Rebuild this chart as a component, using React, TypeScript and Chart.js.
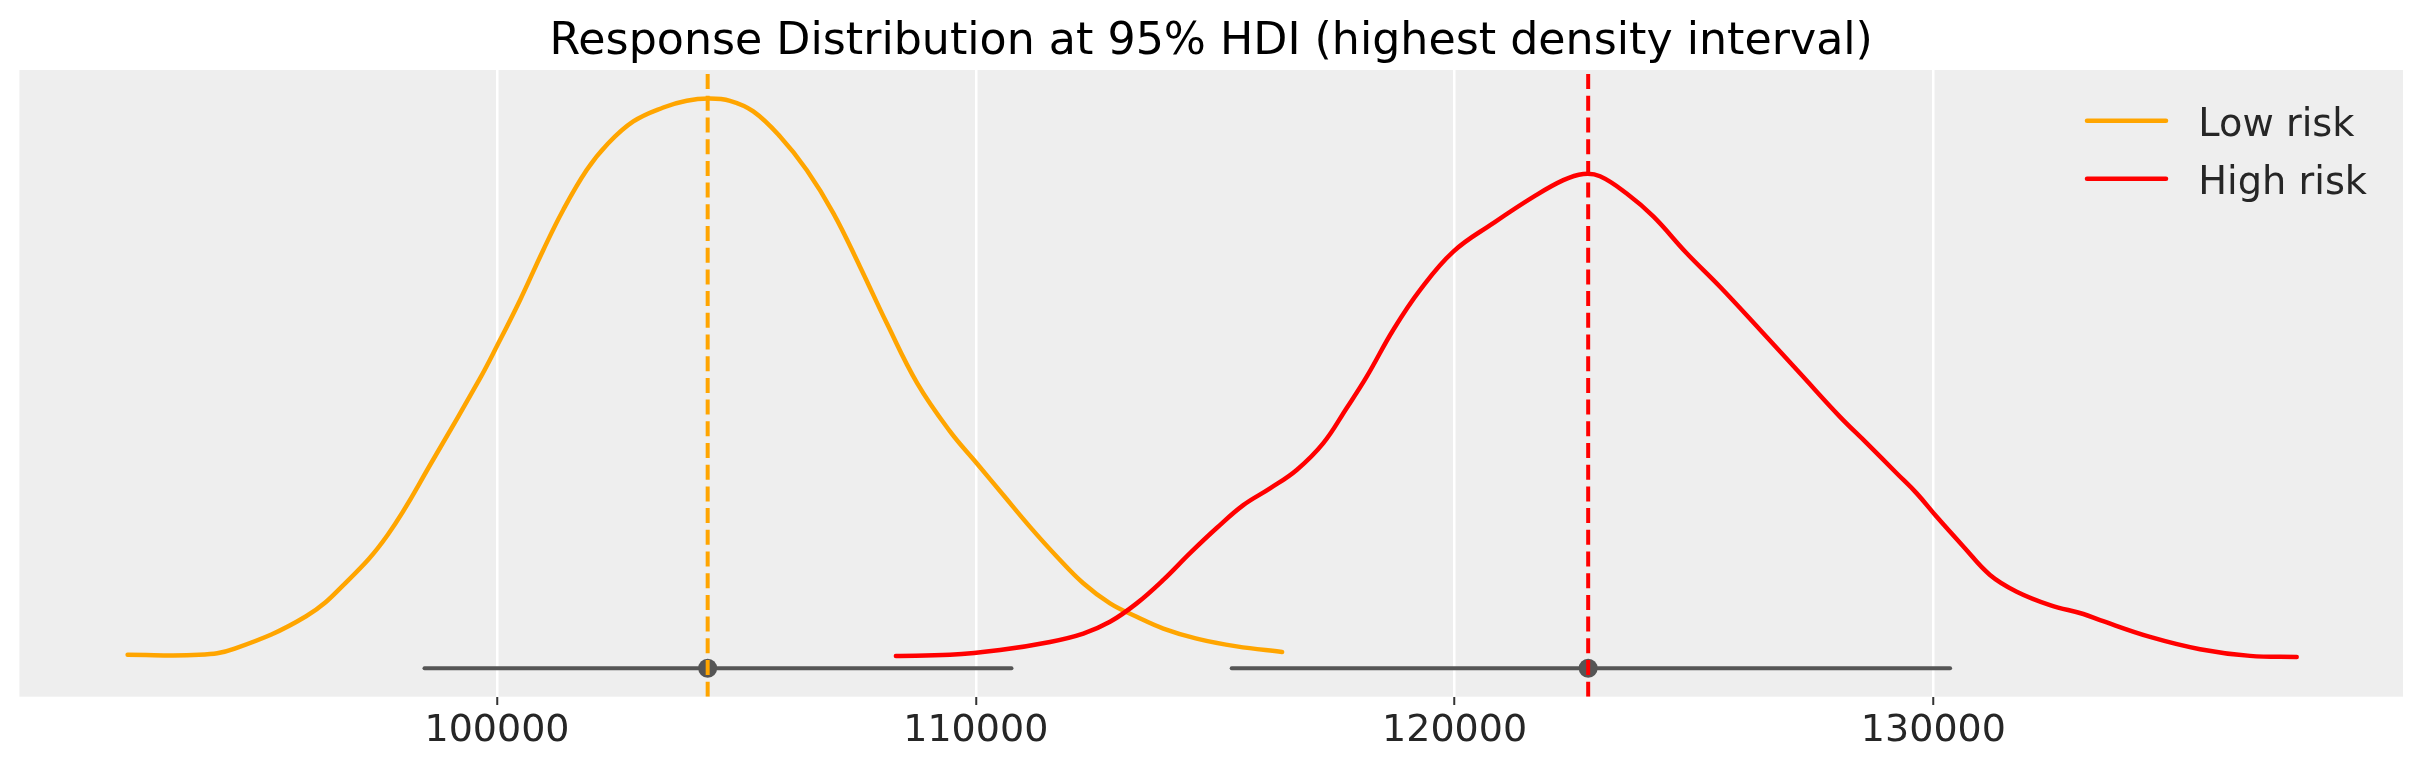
import React, { useEffect, useRef } from "react";
import { Chart, registerables } from "chart.js";

Chart.register(...registerables);

// ---------- data ----------
const TITLE = "Response Distribution at 95% HDI (highest density interval)";
const X_TICKS = [100000, 110000, 120000, 130000];
const X_MIN = 90025;
const X_MAX = 139808;
const Y_MIN = -0.0711;
const Y_MAX = 1.0512;

const LOW_LABEL = "Low risk";
const HIGH_LABEL = "High risk";

const LOW_X = [
  92285, 93776, 94522, 96013, 96865, 97719, 98678, 99645, 99994, 100480,
  100967, 101385, 101873, 102291, 102847, 103473, 103962, 104413, 104866,
  105353, 105911, 106468, 107024, 107581, 108139, 108778, 109461,
  110019, 110574, 111132, 111690, 112245, 112803, 113360, 113916, 114613,
  115449, 116398,
];
const LOW_Y = [
  0.004, 0.004, 0.015, 0.073, 0.135, 0.219, 0.355, 0.499, 0.556, 0.639,
  0.729, 0.801, 0.872, 0.917, 0.959, 0.984, 0.996, 1.0, 0.996,
  0.977, 0.932, 0.872, 0.795, 0.699, 0.598, 0.49, 0.404,
  0.347, 0.29, 0.233, 0.18, 0.132, 0.096, 0.072, 0.051, 0.033,
  0.019, 0.009,
];

const HIGH_X = [
  108331, 109461, 110506, 111550, 112245, 112803, 113360, 113916, 114474,
  115031, 115587, 116145, 116702, 117258, 117747, 118164, 118720, 119277,
  119973, 120808, 121644, 122271, 122688, 123037, 123594, 124150, 124848,
  125543, 126379, 127214, 128050, 128607, 129233, 129652, 130069, 130625,
  131182, 131740, 132436, 133132, 133480, 134524, 135569, 136613, 137588,
];
const HIGH_Y = [
  0.002, 0.004, 0.0125, 0.027, 0.042, 0.063, 0.096, 0.138, 0.186,
  0.231, 0.272, 0.302, 0.335, 0.383, 0.446, 0.502, 0.586, 0.657,
  0.726, 0.777, 0.824, 0.854, 0.865, 0.861, 0.83, 0.789, 0.723,
  0.663, 0.586, 0.508, 0.43, 0.383, 0.329, 0.293, 0.251, 0.198,
  0.147, 0.117, 0.093, 0.077, 0.066, 0.036, 0.014, 0.002, 0.0,
];

const LOW_MEAN = 104400;
const HIGH_MEAN = 122790;
const LOW_HDI = [98486, 110745];
const HIGH_HDI = [115345, 130349];
const HDI_Y = -0.02;

// ---------- styles ----------
const LOW_COLOR = "#FFA500";
const HIGH_COLOR = "#FF0000";
const HDI_COLOR = "#555555";
const DOT_COLOR = "#555555";
const BG_COLOR = "#EEEEEE";
const TEXT_COLOR = "#262626";
const FONT = "'DejaVu Sans', 'Liberation Sans', sans-serif";

const zip = (xs: number[], ys: number[]) => xs.map((x, i) => ({ x, y: ys[i] }));

const bgPlugin = {
  id: "bgPlugin",
  beforeDraw(chart: any) {
    const { ctx, chartArea } = chart;
    ctx.save();
    ctx.fillStyle = BG_COLOR;
    ctx.fillRect(chartArea.left, chartArea.top, chartArea.right - chartArea.left, chartArea.bottom - chartArea.top);
    ctx.restore();
  },
};

const titlePlugin = {
  id: "titlePlugin",
  afterDraw(chart: any) {
    const { ctx, chartArea } = chart;
    ctx.save();
    ctx.font = `44.3px ${FONT}`;
    ctx.fillStyle = "#000000";
    ctx.textAlign = "center";
    ctx.textBaseline = "alphabetic";
    ctx.fillText(TITLE, (chartArea.left + chartArea.right) / 2, 54);
    ctx.restore();
  },
};

const LEGEND = [
  { label: LOW_LABEL, color: LOW_COLOR },
  { label: HIGH_LABEL, color: HIGH_COLOR },
];

const legendPlugin = {
  id: "legendPlugin",
  afterDraw(chart: any) {
    const { ctx, chartArea } = chart;
    ctx.save();
    ctx.font = `38.3px ${FONT}`;
    ctx.textAlign = "left";
    ctx.textBaseline = "alphabetic";
    LEGEND.forEach((item, i) => {
      const y = chartArea.top + 50.7 + i * 58;
      ctx.strokeStyle = item.color;
      ctx.lineWidth = 4.5;
      ctx.lineCap = "round";
      ctx.beginPath();
      ctx.moveTo(chartArea.right - 316, y);
      ctx.lineTo(chartArea.right - 237, y);
      ctx.stroke();
      ctx.fillStyle = TEXT_COLOR;
      ctx.fillText(item.label, chartArea.right - 204.7, y + 15);
    });
    ctx.restore();
  },
};

export default function App() {
  const ref = useRef<HTMLCanvasElement | null>(null);

  useEffect(() => {
    document.body.style.margin = "0";
    if (!ref.current) return;
    const chart = new Chart(ref.current, {
      type: "scatter",
      data: {
        datasets: [
          {
            label: "low-mean",
            data: [{ x: LOW_MEAN, y: Y_MIN }, { x: LOW_MEAN, y: Y_MAX }],
            borderColor: LOW_COLOR,
            borderWidth: 4,
            borderDash: [15, 6.7],
            showLine: true,
            pointRadius: 0,
            order: 0,
          },
          {
            label: "high-mean",
            data: [{ x: HIGH_MEAN, y: Y_MIN }, { x: HIGH_MEAN, y: Y_MAX }],
            borderColor: HIGH_COLOR,
            borderWidth: 4,
            borderDash: [15, 6.7],
            showLine: true,
            pointRadius: 0,
            order: 0,
          },
          {
            label: "means",
            data: [{ x: LOW_MEAN, y: HDI_Y }, { x: HIGH_MEAN, y: HDI_Y }],
            backgroundColor: DOT_COLOR,
            borderWidth: 0,
            pointRadius: 9.5,
            showLine: false,
            order: 1,
          },
          {
            label: "low-hdi",
            data: LOW_HDI.map((x) => ({ x, y: HDI_Y })),
            borderColor: HDI_COLOR,
            borderWidth: 4,
            borderCapStyle: "round",
            showLine: true,
            pointRadius: 0,
            order: 2,
          },
          {
            label: "high-hdi",
            data: HIGH_HDI.map((x) => ({ x, y: HDI_Y })),
            borderColor: HDI_COLOR,
            borderWidth: 4,
            borderCapStyle: "round",
            showLine: true,
            pointRadius: 0,
            order: 2,
          },
          {
            label: HIGH_LABEL,
            data: zip(HIGH_X, HIGH_Y),
            borderColor: HIGH_COLOR,
            borderWidth: 4.5,
            borderCapStyle: "round",
            borderJoinStyle: "round",
            tension: 0.4,
            showLine: true,
            pointRadius: 0,
            order: 3,
          },
          {
            label: LOW_LABEL,
            data: zip(LOW_X, LOW_Y),
            borderColor: LOW_COLOR,
            borderWidth: 4.5,
            borderCapStyle: "round",
            borderJoinStyle: "round",
            tension: 0.4,
            showLine: true,
            pointRadius: 0,
            order: 4,
          },
        ] as any,
      },
      options: {
        animation: false,
        responsive: false,
        events: [],
        layout: { padding: { left: 19.4, right: 20, top: 70, bottom: 0 } },
        plugins: {
          legend: { display: false },
          title: { display: false },
          tooltip: { enabled: false },
        },
        scales: {
          x: {
            type: "linear",
            min: X_MIN,
            max: X_MAX,
            afterBuildTicks: (scale: any) => {
              scale.ticks = X_TICKS.map((v) => ({ value: v }));
            },
            afterFit: (scale: any) => {
              scale.height = 76.3;
            },
            grid: {
              color: "#FFFFFF",
              lineWidth: 2.5,
              tickColor: "#333333",
              tickWidth: 2,
              tickLength: 8.3,
              drawOnChartArea: true,
            },
            border: { display: false },
            ticks: {
              color: TEXT_COLOR,
              font: { family: FONT, size: 38, lineHeight: 1.2 },
              padding: 3.5,
              maxRotation: 0,
              autoSkip: false,
              callback: (v: any) => String(v),
            },
          },
          y: {
            type: "linear",
            display: false,
            min: Y_MIN,
            max: Y_MAX,
          },
        },
      } as any,
      plugins: [bgPlugin, titlePlugin, legendPlugin],
    });
    return () => chart.destroy();
  }, []);

  return (
    <div style={{ width: 2423, height: 773 }}>
      <canvas ref={ref} width={2423} height={773} style={{ display: "block", width: 2423, height: 773 }} />
    </div>
  );
}
